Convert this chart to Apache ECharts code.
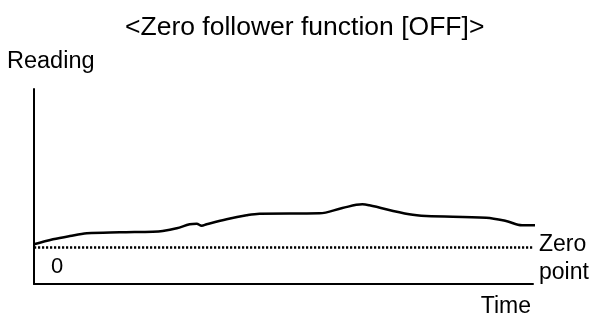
<!DOCTYPE html>
<html>
<head>
<meta charset="utf-8">
<script src="https://cdn.jsdelivr.net/npm/echarts@6/dist/echarts.min.js"></script>
<style>
  html, body { margin: 0; padding: 0; background: #fff; }
  #chart { width: 594px; height: 320px; }
</style>
</head>
<body>
<div id="chart"></div>
<script>
// Elapsed time (arbitrary units, 0..100 across the time axis)
const timeValues = [0, 3.8, 7.2, 10.6, 17.2, 23.8, 25.8, 28.6, 31.2, 32.6, 33.6, 34.6,
  38.6, 42.6, 45.2, 57.2, 61.8, 65.8, 67.2, 75.2, 78.6, 90.6, 94.6, 97.8, 100.6];
// Instrument reading drifting above the zero point
const readingValues = [0.27, 0.77, 1.1, 1.37, 1.47, 1.53, 1.6, 1.87, 2.27, 2.33, 2.13, 2.27,
  2.77, 3.17, 3.33, 3.37, 3.9, 4.27, 4.17, 3.27, 3.1, 2.93, 2.6, 2.17, 2.17];
const zeroPoint = 0;
// The only value labelled on the reading axis
const readingTicks = [0];

const titleText = '<Zero follower function [OFF]>';
const yAxisName = 'Reading';
const xAxisName = 'Time';
const zeroPointLabel = 'Zero\npoint';

const font = '"Liberation Sans", Arial, sans-serif';
const chart = echarts.init(document.getElementById('chart'), null, { renderer: 'canvas' });

chart.setOption({
  animation: false,
  backgroundColor: '#ffffff',
  textStyle: { fontFamily: font, color: '#000' },
  title: {
    text: titleText,
    left: 120,
    top: 9,
    textStyle: { fontFamily: font, fontSize: 26.5, fontWeight: 'normal', color: '#000' }
  },
  grid: { left: 34, right: 61, top: 89, bottom: 36, containLabel: false },
  xAxis: {
    type: 'value',
    min: 0,
    max: 100,
    name: xAxisName,
    nameLocation: 'end',
    nameGap: 0,
    nameTextStyle: { fontFamily: font, fontSize: 23, color: '#000', align: 'right', verticalAlign: 'top', padding: [11, 2, 0, 0] },
    axisLine: { show: true, onZero: false, lineStyle: { color: '#000', width: 2 } },
    axisTick: { show: false },
    axisLabel: { show: false },
    splitLine: { show: false }
  },
  yAxis: {
    type: 'value',
    min: -3.7,
    max: 15.8,
    name: yAxisName,
    nameLocation: 'end',
    nameGap: 0,
    nameTextStyle: { fontFamily: font, fontSize: 23.5, color: '#000', align: 'left', verticalAlign: 'bottom', padding: [0, 0, 15, -27] },
    axisLine: { show: true, onZero: false, lineStyle: { color: '#000', width: 2 } },
    axisTick: { show: false },
    axisLabel: {
      show: true,
      inside: true,
      customValues: readingTicks,
      margin: 17,
      fontFamily: font,
      fontSize: 22,
      color: '#000',
      verticalAlign: 'top',
      padding: [9, 0, 0, 0]
    },
    splitLine: { show: false }
  },
  series: [{
    type: 'line',
    data: timeValues.map((t, i) => [t, readingValues[i]]),
    smooth: 0.35,
    showSymbol: false,
    clip: false,
    lineStyle: { color: '#000', width: 2.5 },
    markLine: {
      symbol: 'none',
      silent: true,
      data: [
        {
          yAxis: zeroPoint,
          lineStyle: { color: '#000', width: 2.5, type: [2.2, 1.8] },
          label: {
            show: true, position: 'end', formatter: zeroPointLabel,
            fontFamily: font, fontSize: 23, color: '#000', lineHeight: 28,
            align: 'left', verticalAlign: 'top', padding: [-16, 0, 0, 1]
          }
        }
      ]
    }
  }]
});
</script>
</body>
</html>
